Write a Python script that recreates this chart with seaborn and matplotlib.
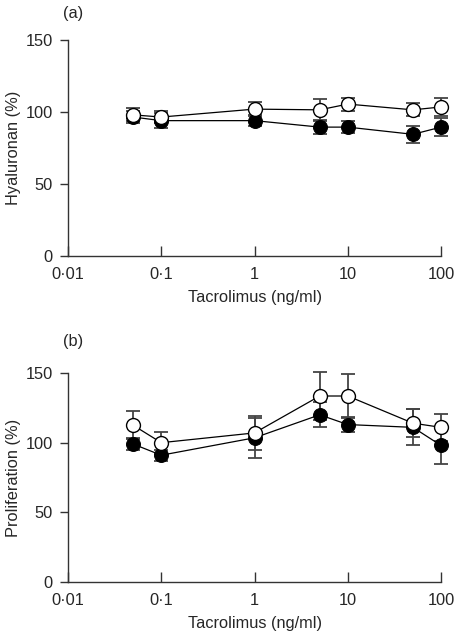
import matplotlib
matplotlib.use("Agg")
import matplotlib.pyplot as plt
import seaborn as sns
import pandas as pd
import numpy as np

# Tacrolimus concentrations (ng/ml)
dose = [0.05, 0.1, 1, 5, 10, 50, 100]

# (a) hyaluronan (%)
hya_open = [98, 96.5, 102, 101.5, 105.5, 101.5, 103.5]
hya_open_err = [4.5, 4, 5, 7.5, 4.5, 4.5, 6]
hya_filled = [96.5, 94, 94, 89.5, 89.5, 84.5, 89.5]
hya_filled_err = [4, 5, 4, 5, 4, 6, 6]

# (b) proliferation (%)
pro_open = [112.5, 100, 107, 133.5, 133.5, 114, 111]
pro_open_err = [10, 8, 12.5, 17, 16, 10, 9.5]
pro_filled = [99, 91, 103.5, 120, 113, 111, 98]
pro_filled_err = [4.5, 4, 14.5, 9, 5.5, 13, 13]

xticks = [0.01, 0.1, 1, 10, 100]
xtick_labels = ["0\u00b701", "0\u00b71", "1", "10", "100"]
yticks = [0, 50, 100, 150]

sns.set_style("ticks")
plt.rcParams['font.family'] = ['Liberation Sans', 'DejaVu Sans']
plt.rcParams['font.size'] = 11.8

fig = plt.figure(figsize=(4.54, 6.36), dpi=100)
ax_a = fig.add_axes([0.1498, 0.5975, 0.8216, 0.3396])
ax_b = fig.add_axes([0.1498, 0.0849, 0.8216, 0.3286])

err_color = "#444444"


def draw_panel(ax, open_vals, open_err, filled_vals, filled_err, ylabel, tag, tag_y):
    df = pd.DataFrame({"dose": dose, "open": open_vals, "filled": filled_vals})
    # error bars first so markers sit on top
    for vals, errs in [(filled_vals, filled_err), (open_vals, open_err)]:
        eb = ax.errorbar(dose, vals, yerr=errs, fmt="none", ecolor=err_color,
                         elinewidth=1.3, capsize=5, capthick=1.3, zorder=2)
        for art in eb.lines[1] + eb.lines[2]:
            art.set_clip_on(False)
    sns.lineplot(data=df, x="dose", y="filled", ax=ax, color="black", lw=0.9,
                 marker="o", markersize=10, markerfacecolor="black",
                 markeredgecolor="black", zorder=3, clip_on=False)
    sns.lineplot(data=df, x="dose", y="open", ax=ax, color="black", lw=0.9,
                 marker="o", markersize=10, markerfacecolor="white",
                 markeredgecolor="black", markeredgewidth=1.0, zorder=4, clip_on=False)
    ax.set_xscale("log")
    ax.set_xlim(0.01, 100)
    ax.set_ylim(0, 150)
    ax.set_xticks(xticks)
    ax.set_xticklabels(xtick_labels)
    ax.minorticks_off()
    ax.set_yticks(yticks)
    ax.tick_params(axis="x", direction="in", length=7, width=1, pad=8, color="#333333")
    ax.tick_params(axis="y", direction="out", length=6, width=1, pad=5, color="#333333")
    for side in ["top", "right"]:
        ax.spines[side].set_visible(False)
    for side in ["left", "bottom"]:
        ax.spines[side].set_linewidth(1)
        ax.spines[side].set_color("#333333")
    ax.set_xlabel("Tacrolimus (ng/ml)", labelpad=6)
    ax.set_ylabel(ylabel)
    ax.yaxis.set_label_coords(-0.125, 0.5)
    ax.text(-0.013, tag_y, tag, transform=ax.transAxes, ha="left", va="center")


draw_panel(ax_a, hya_open, hya_open_err, hya_filled, hya_filled_err, "Hyaluronan (%)", "(a)", 1.125)
draw_panel(ax_b, pro_open, pro_open_err, pro_filled, pro_filled_err, "Proliferation (%)", "(b)", 1.15)

fig.savefig("out.png", dpi=100)
